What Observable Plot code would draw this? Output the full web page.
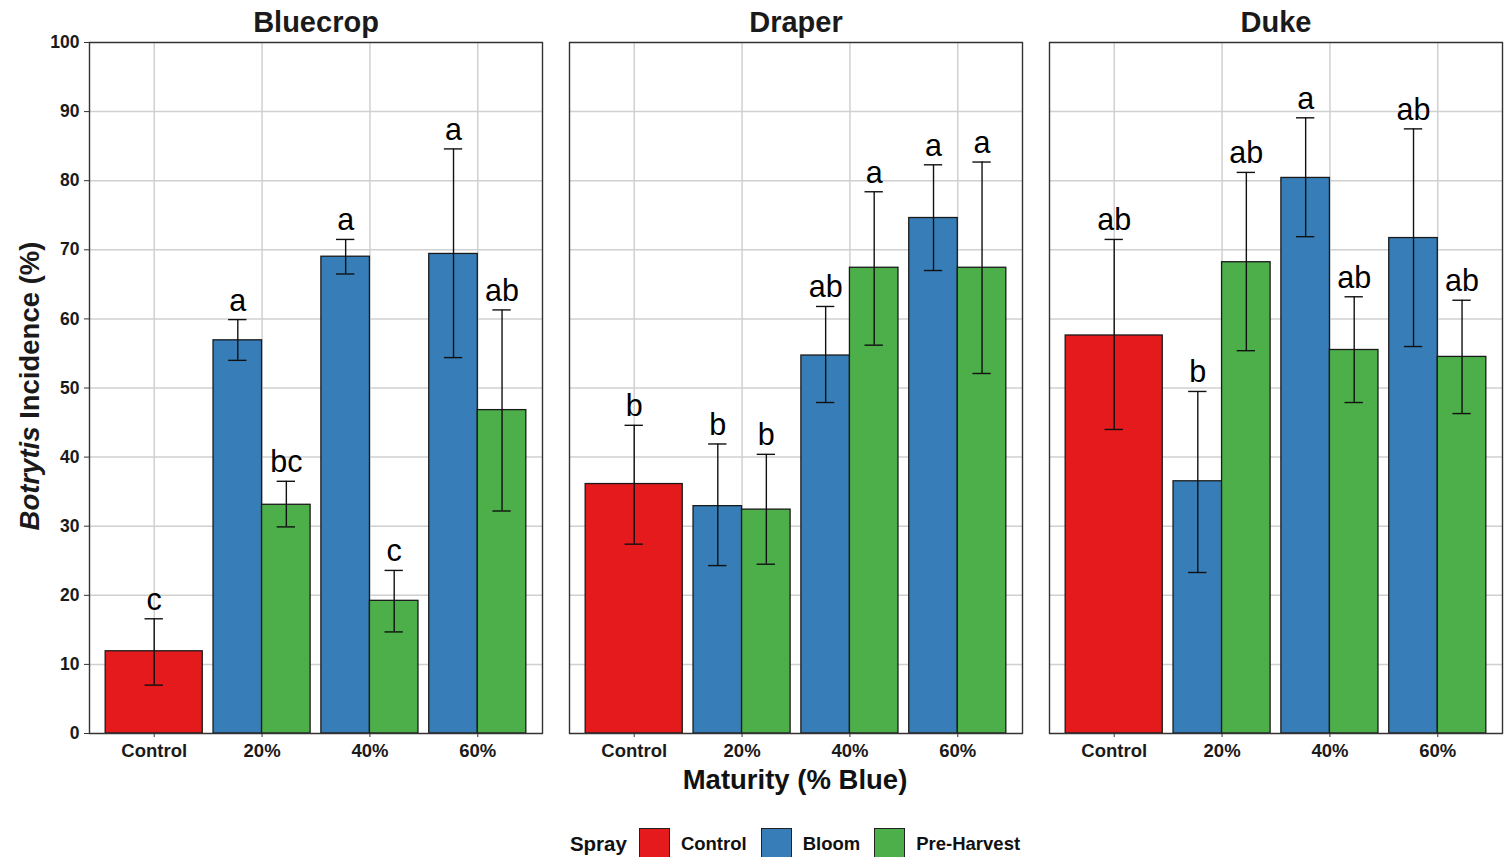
<!DOCTYPE html>
<html>
<head>
<meta charset="utf-8">
<script src="https://cdn.jsdelivr.net/npm/d3@7"></script>
<script src="https://cdn.jsdelivr.net/npm/@observablehq/plot@0.6"></script>
<style>
  body { margin: 0; background: #fff; font-family: "Liberation Sans", Arial, sans-serif; }
  #wrap { position: relative; width: 1506px; height: 857px; overflow: hidden; background: #fff; }
  #chart { position: absolute; left: 0; top: 0; }
  #ytitle { position: absolute; left: 30px; top: 386px; transform: translate(-50%, -50%) rotate(-90deg);
            font-weight: bold; font-size: 27.5px; white-space: nowrap; color: #1a1a1a; }
  #xtitle { position: absolute; left: 88px; width: 1414px; top: 765px; text-align: center;
            font-weight: bold; font-size: 27.5px; line-height: 30px; color: #111; }
  #legend { position: absolute; left: 88px; width: 1414px; top: 828px; height: 31px; display: flex;
            justify-content: center; align-items: center; font-weight: bold; font-size: 18.5px; color: #111; }
  #legend .title { font-size: 20.5px; margin-right: 12px; }
  #legend .sw { width: 29px; height: 29px; border: 1px solid #222; margin-right: 11px; }
  #legend .lab { margin-right: 14px; }
  #legend .lab:last-child { margin-right: 0; }
</style>
</head>
<body>
<div id="wrap">
  <div id="chart"></div>
  <div id="ytitle"><i>Botrytis</i> Incidence (%)</div>
  <div id="xtitle">Maturity (% Blue)</div>
  <div id="legend"></div>
</div>
<script>
// ---- data ----
const varieties = ["Bluecrop", "Draper", "Duke"];
const maturities = ["Control", "20%", "40%", "60%"];
const sprays = ["Control", "Bloom", "Pre-Harvest"];
const sprayColors = ["#E41A1C", "#377EB8", "#4DAF4A"];
const yTicks = [0, 10, 20, 30, 40, 50, 60, 70, 80, 90, 100];

// bar order within each variety
const barMaturity = ["Control", "20%", "20%", "40%", "40%", "60%", "60%"];
const barSpray = ["Control", "Bloom", "Pre-Harvest", "Bloom", "Pre-Harvest", "Bloom", "Pre-Harvest"];

// one row per variety (Bluecrop, Draper, Duke)
const meanPct = [
  [11.9, 56.9, 33.1, 69.0, 19.2, 69.4, 46.8],
  [36.1, 32.9, 32.4, 54.7, 67.4, 74.6, 67.4],
  [57.6, 36.5, 68.2, 80.4, 55.5, 71.7, 54.5]
];
const lowerPct = [
  [7.0, 54.0, 29.9, 66.5, 14.7, 54.4, 32.2],
  [27.4, 24.3, 24.5, 47.9, 56.2, 67.0, 52.1],
  [44.0, 23.3, 55.4, 71.9, 47.9, 56.0, 46.3]
];
const upperPct = [
  [16.6, 59.9, 36.5, 71.5, 23.6, 84.6, 61.3],
  [44.6, 41.9, 40.4, 61.8, 78.4, 82.3, 82.7],
  [71.5, 49.5, 81.2, 89.1, 63.2, 87.5, 62.7]
];
const letters = [
  ["c", "a", "bc", "a", "c", "a", "ab"],
  ["b", "b", "b", "ab", "a", "a", "a"],
  ["ab", "b", "ab", "a", "ab", "ab", "ab"]
];

// dodge layout (ggplot position_dodge, width 0.9)
const dodge = {"Control": [-0.45, 0.45], "Bloom": [-0.45, 0], "Pre-Harvest": [0, 0.45]};

const rows = varieties.flatMap((v, i) => barMaturity.map((m, j) => {
  const pos = maturities.indexOf(m) + 1;
  const [a, b] = dodge[barSpray[j]];
  return {
    variety: v, maturity: m, spray: barSpray[j],
    mean: meanPct[i][j], lo: lowerPct[i][j], hi: upperPct[i][j], letter: letters[i][j],
    x1: pos + a, x2: pos + b, xc: pos + (a + b) / 2
  };
}));

const capHalf = 0.085;
const gridColor = "#d0d0d0";

const chart = Plot.plot({
  width: 1506,
  height: 765,
  marginLeft: 88,
  marginRight: 4,
  marginTop: 42,
  marginBottom: 32,
  style: {fontFamily: "'Liberation Sans', Arial, sans-serif", color: "#1a1a1a", background: "#fff"},
  fx: {domain: varieties, paddingInner: 0.057, paddingOuter: 0, axis: null, label: null},
  x: {domain: [0.4, 4.6], axis: null},
  y: {domain: [0, 100], axis: null},
  color: {domain: sprays, range: sprayColors},
  marks: [
    Plot.gridY({ticks: yTicks, stroke: gridColor, strokeOpacity: 1, strokeWidth: 1.5}),
    Plot.gridX({ticks: [1, 2, 3, 4], stroke: gridColor, strokeOpacity: 1, strokeWidth: 1.5}),
    Plot.rect(rows, {fx: "variety", x1: "x1", x2: "x2", y1: () => 0, y2: "mean",
      fill: "spray", stroke: "#1a1a1a", strokeWidth: 1.3}),
    Plot.ruleX(rows, {fx: "variety", x: "xc", y1: "lo", y2: "hi", stroke: "#111", strokeWidth: 1.4}),
    Plot.ruleY(rows, {fx: "variety", y: "hi", x1: d => d.xc - capHalf, x2: d => d.xc + capHalf, stroke: "#111", strokeWidth: 1.4}),
    Plot.ruleY(rows, {fx: "variety", y: "lo", x1: d => d.xc - capHalf, x2: d => d.xc + capHalf, stroke: "#111", strokeWidth: 1.4}),
    Plot.text(rows, {fx: "variety", x: "xc", y: "hi", text: "letter", lineAnchor: "bottom", dy: -9,
      fontSize: 30.5, fill: "#000"}),
    Plot.frame({stroke: "#333", strokeWidth: 1.4}),
    Plot.axisY({ticks: yTicks, tickSize: 5, tickPadding: 5, fontSize: 17.5, fontWeight: "bold",
      label: null, stroke: "#333"}),
    Plot.axisX({ticks: [1, 2, 3, 4], tickFormat: d => maturities[d - 1], tickSize: 4, tickPadding: 6,
      fontSize: 18.5, fontWeight: "bold", label: null, stroke: "#333"}),
    Plot.axisFx({anchor: "top", tickSize: 0, tickPadding: 11, fontSize: 29, fontWeight: "bold", label: null})
  ]
});
document.getElementById("chart").appendChild(chart);

// legend built from the spray arrays
const legend = document.getElementById("legend");
const t = document.createElement("span");
t.className = "title";
t.textContent = "Spray";
legend.appendChild(t);
sprays.forEach((s, i) => {
  const sw = document.createElement("span");
  sw.className = "sw";
  sw.style.background = sprayColors[i];
  legend.appendChild(sw);
  const lab = document.createElement("span");
  lab.className = "lab";
  lab.textContent = s;
  legend.appendChild(lab);
});
</script>
</body>
</html>
